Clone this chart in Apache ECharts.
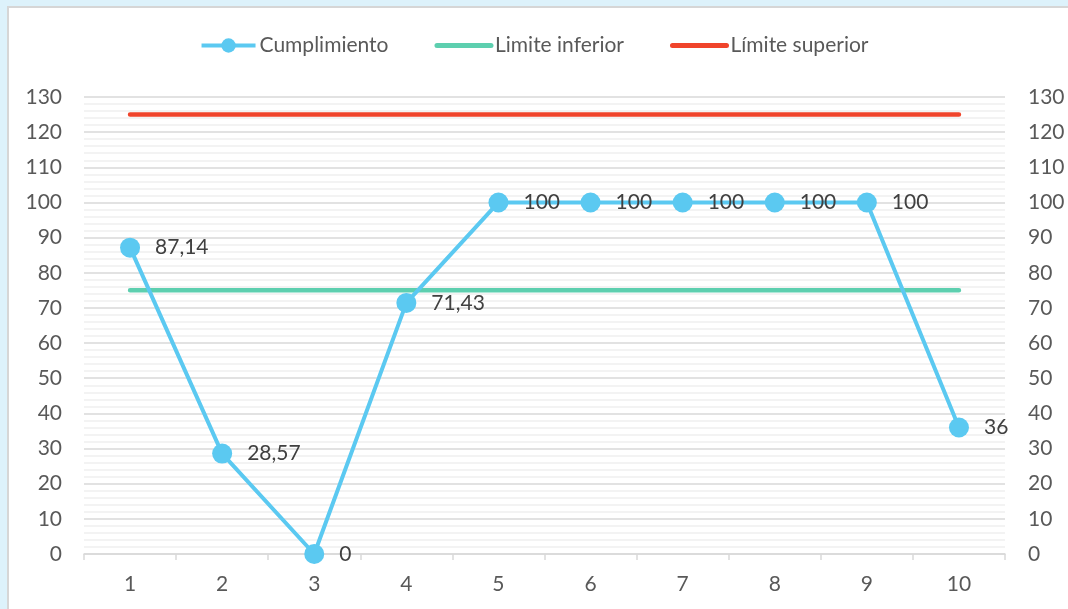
<!DOCTYPE html>
<html>
<head>
<meta charset="utf-8">
<script src="https://cdn.jsdelivr.net/npm/echarts@6/dist/echarts.min.js"></script>
<style>
  html, body { margin: 0; padding: 0; width: 1068px; height: 609px; overflow: hidden; background: #DDF2FB; }
  #panel { position: absolute; left: 7px; top: 6px; width: 1070px; height: 620px; background: #fff; border: 2px solid #D6D6D6; box-sizing: border-box; }
  #chart { position: absolute; left: 0; top: 0; width: 1068px; height: 609px; }
</style>
</head>
<body>
<div id="panel"></div>
<div id="chart"></div>
<script>
// Categories and series values
const categories = ['1', '2', '3', '4', '5', '6', '7', '8', '9', '10'];
const cumplimiento = [87.14, 28.57, 0, 71.43, 100, 100, 100, 100, 100, 36];
const limiteInferior = [75, 75, 75, 75, 75, 75, 75, 75, 75, 75];
const limiteSuperior = [125, 125, 125, 125, 125, 125, 125, 125, 125, 125];
const seriesNames = ['Cumplimiento', 'Limite inferior', 'Límite superior'];

const FONT = 'Lato, "Open Sans", sans-serif';
const TEXT = '#595959';
const BLUE = '#5BC9F1', GREEN = '#5DCFAF', RED = '#F0442B';
const chart = echarts.init(document.getElementById('chart'), null, { renderer: 'canvas' });

const yAxisBase = {
  type: 'value', min: 0, max: 130, interval: 10,
  axisLine: { show: false }, axisTick: { show: false },
  axisLabel: { color: TEXT, fontSize: 21, fontFamily: FONT }
};

chart.setOption({
  backgroundColor: 'transparent',
  animation: false,
  legend: {
    top: 30, left: 'center',
    itemWidth: 54, itemHeight: 18, itemGap: 46,
    textStyle: { color: TEXT, fontSize: 21, fontFamily: FONT, padding: [0, 0, 0, -1] },
    data: [
      { name: seriesNames[0], lineStyle: { width: 4, color: BLUE } },
      // plain line keys for the two limit lines (marker hidden)
      { name: seriesNames[1], itemStyle: { color: 'rgba(0,0,0,0)', borderWidth: 0 }, lineStyle: { width: 5, color: GREEN, cap: 'round' } },
      { name: seriesNames[2], itemStyle: { color: 'rgba(0,0,0,0)', borderWidth: 0 }, lineStyle: { width: 5, color: RED, cap: 'round' } }
    ]
  },
  grid: { left: 84, right: 63, top: 97, bottom: 55, containLabel: false },
  xAxis: {
    type: 'category', data: categories, boundaryGap: true,
    axisLine: { lineStyle: { color: '#D9D9D9', width: 1.5 } },
    axisTick: { show: true, length: 6, lineStyle: { color: '#D9D9D9', width: 1.5 } },
    axisLabel: { color: TEXT, fontSize: 21, fontFamily: FONT, margin: 20 }
  },
  yAxis: [
    Object.assign({}, yAxisBase, {
      position: 'left',
      axisLabel: Object.assign({}, yAxisBase.axisLabel, { margin: 22 }),
      splitLine: { show: true, lineStyle: { color: '#D9D9D9', width: 1.5 } },
      minorTick: { show: false, splitNumber: 5 },
      minorSplitLine: { show: true, lineStyle: { color: '#F0F0F0', width: 1.5 } }
    }),
    Object.assign({}, yAxisBase, {
      position: 'right',
      axisLabel: Object.assign({}, yAxisBase.axisLabel, { margin: 23 }),
      splitLine: { show: false }
    })
  ],
  series: [
    {
      name: seriesNames[1], type: 'line', data: limiteInferior,
      showSymbol: false, symbol: 'none',
      lineStyle: { color: GREEN, width: 4.5, cap: 'round' },
      itemStyle: { color: GREEN }, z: 2
    },
    {
      name: seriesNames[2], type: 'line', data: limiteSuperior,
      showSymbol: false, symbol: 'none',
      lineStyle: { color: RED, width: 4.5, cap: 'round' },
      itemStyle: { color: RED }, z: 2
    },
    {
      name: seriesNames[0], type: 'line', data: cumplimiento,
      symbol: 'circle', symbolSize: 20,
      lineStyle: { color: BLUE, width: 4 },
      itemStyle: { color: BLUE },
      label: {
        show: true, position: 'right', distance: 15,
        color: '#404040', fontSize: 21, fontFamily: FONT,
        formatter: p => String(p.value).replace('.', ',')
      },
      z: 3
    }
  ]
});
</script>
</body>
</html>
